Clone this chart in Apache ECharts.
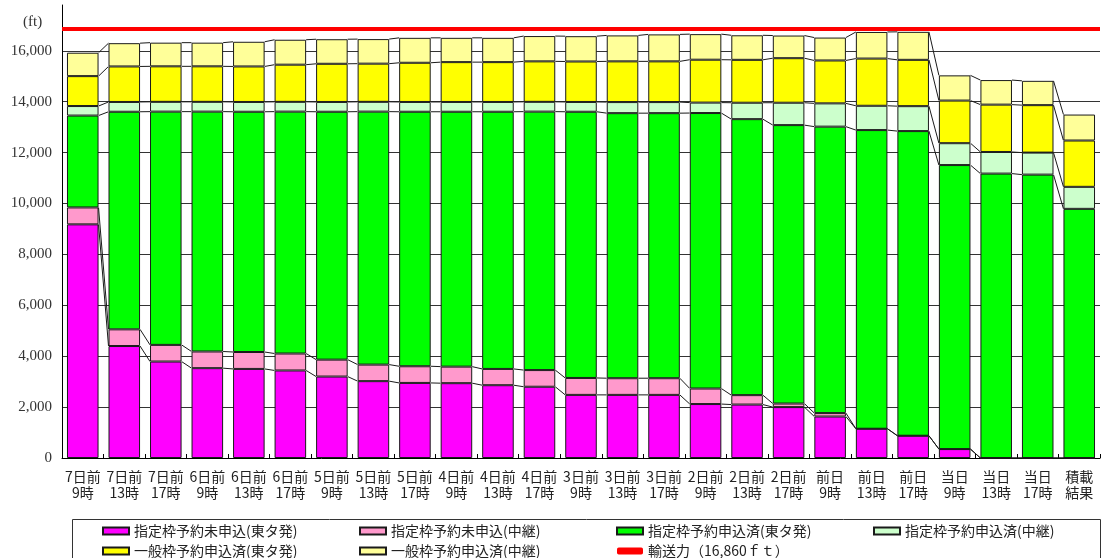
<!DOCTYPE html>
<html>
<head>
<meta charset="utf-8">
<script src="https://cdn.jsdelivr.net/npm/echarts@6/dist/echarts.min.js"></script>
<style>
html,body{margin:0;padding:0;background:#fff;}
#main{width:1103px;height:558px;}
</style>
</head>
<body>
<div id="main"></div>
<script>
// ---- data ----
const categories = [
  '7日前\n9時','7日前\n13時','7日前\n17時',
  '6日前\n9時','6日前\n13時','6日前\n17時',
  '5日前\n9時','5日前\n13時','5日前\n17時',
  '4日前\n9時','4日前\n13時','4日前\n17時',
  '3日前\n9時','3日前\n13時','3日前\n17時',
  '2日前\n9時','2日前\n13時','2日前\n17時',
  '前日\n9時','前日\n13時','前日\n17時',
  '当日\n9時','当日\n13時','当日\n17時',
  '積載\n結果'
];
const seriesNames = [
  '指定枠予約未申込(東タ発)', '指定枠予約未申込(中継)',
  '指定枠予約申込済(東タ発)', '指定枠予約申込済(中継)',
  '一般枠予約申込済(東タ発)', '一般枠予約申込済(中継)'
];
const capacityName = '輸送力（16,860ｆｔ）';
const capacity = 16860;

const unbookedTokyo = [9180,4400,3790,3530,3500,3440,3200,3020,2950,2940,2860,2800,2480,2480,2480,2120,2100,2000,1630,1150,875,350,0,0,0];
const unbookedRelay = [665,655,655,655,665,665,665,650,655,650,640,655,665,655,655,610,370,140,135,0,0,0,0,0,0];
const bookedTokyo   = [3610,8550,9165,9425,9440,9505,9740,9940,10000,10015,10105,10155,10460,10415,10415,10825,10845,10940,11255,11735,11970,11160,11175,11135,9790];
const bookedRelay   = [375,385,385,385,385,385,385,385,385,385,385,385,385,435,435,410,645,880,915,955,980,860,850,865,865];
const generalTokyo  = [1175,1395,1395,1395,1395,1460,1500,1500,1540,1565,1565,1590,1590,1600,1600,1685,1685,1750,1685,1855,1820,1675,1860,1865,1820];
const generalRelay  = [920,915,930,930,970,980,965,965,980,955,955,995,995,1020,1060,1005,965,890,900,1045,1100,990,965,955,1020];

const yTicks = { min: 0, max: 17800, interval: 2000 };

// ---- build ----
const stacks = [unbookedTokyo, unbookedRelay, bookedTokyo, bookedRelay, generalTokyo, generalRelay];
const colors = ['#FF00FF', '#FF99CC', '#00FF00', '#CCFFCC', '#FFFF00', '#FFFF99'];
const BAR_RATIO = 0.76;

const cumulative = [];
let running = categories.map(() => 0);
stacks.forEach(arr => {
  running = running.map((v, i) => v + arr[i]);
  cumulative.push(running.slice());
});

const cjk = '"Noto Sans CJK JP", "Noto Sans", sans-serif';
const serif = '"Liberation Serif", "DejaVu Serif", serif';

const barSeries = stacks.map((arr, k) => ({
  name: seriesNames[k],
  type: 'bar',
  stack: 'total',
  barWidth: (BAR_RATIO * 100) + '%',
  data: arr,
  itemStyle: { color: colors[k], borderColor: '#1a1a1a', borderWidth: 1 },
  emphasis: { disabled: true },
  z: 2
}));

const connectorSeries = {
  type: 'custom',
  name: 'connectors',
  silent: true,
  z: 3,
  data: categories.slice(0, -1).map((c, i) => [i]),
  encode: { x: 0 },
  renderItem: function (params, api) {
    const i = api.value(0);
    const band = api.size([1, 0])[0];
    const half = band * BAR_RATIO / 2;
    const xa = api.coord([i, 0])[0] + half;
    const xb = api.coord([i + 1, 0])[0] - half;
    const children = cumulative.map(cum => ({
      type: 'line',
      shape: {
        x1: xa, y1: api.coord([i, cum[i]])[1],
        x2: xb, y2: api.coord([i + 1, cum[i + 1]])[1]
      },
      style: { stroke: '#1a1a1a', lineWidth: 1 }
    }));
    return { type: 'group', children: children };
  }
};

const capacitySeries = {
  name: capacityName,
  type: 'line',
  data: [],
  symbol: 'none',
  color: '#FF0000',
  lineStyle: { color: '#FF0000', width: 4 },
  markLine: {
    silent: true,
    symbol: ['none', 'none'],
    label: { show: false },
    lineStyle: { color: '#FF0000', width: 4, type: 'solid' },
    data: [{ yAxis: capacity }]
  },
  z: 5
};

function item(name) { return { name: name, icon: 'rect' }; }

function legendCol(left, names) {
  return {
    left: left, top: 521, height: 60, width: 250, orient: 'vertical', padding: 0,
    itemWidth: 26, itemHeight: 7, itemGap: 0,
    selectedMode: false,
    textStyle: { fontFamily: cjk, fontSize: 14, color: '#222', lineHeight: 20 },
    data: names
  };
}

const chart = echarts.init(document.getElementById('main'));
chart.setOption({
  animation: false,
  backgroundColor: '#fff',
  title: {
    text: '(ft)', left: 23, top: 15, padding: 0,
    textStyle: { fontFamily: serif, fontSize: 15, fontWeight: 'normal', color: '#333' }
  },
  grid: { left: 62, right: 3, top: 5, bottom: 100 },
  legend: [
    legendCol(102, [item(seriesNames[0]), item(seriesNames[4])]),
    legendCol(359, [item(seriesNames[1]), item(seriesNames[5])]),
    legendCol(616, [item(seriesNames[2]), { name: capacityName, icon: 'roundRect', itemStyle: { color: '#FF0000', borderWidth: 0 } }]),
    legendCol(873, [item(seriesNames[3])])
  ],
  xAxis: {
    type: 'category',
    data: categories,
    boundaryGap: true,
    axisLine: { show: true, lineStyle: { color: '#000', width: 1 } },
    axisTick: { show: true, inside: true, length: 4, lineStyle: { color: '#000' } },
    axisLabel: { interval: 0, margin: 10, fontFamily: cjk, fontSize: 14, lineHeight: 16.5, color: '#222' }
  },
  yAxis: {
    type: 'value',
    min: yTicks.min, max: yTicks.max, interval: yTicks.interval,
    axisLine: { show: true, lineStyle: { color: '#000', width: 1 } },
    axisTick: { show: false },
    axisLabel: {
      showMaxLabel: false, margin: 10,
      fontFamily: serif, fontSize: 15, color: '#333',
      formatter: v => v.toLocaleString('en-US')
    },
    splitLine: { show: true, showMaxLine: false, showMinLine: false, lineStyle: { color: '#333', width: 1 } }
  },
  graphic: [{
    type: 'rect', silent: true, z: 0,
    shape: { x: 72.5, y: 519.5, width: 1028, height: 60 },
    style: { fill: 'none', stroke: '#333', lineWidth: 1 }
  }],
  series: barSeries.concat([connectorSeries, capacitySeries])
});
</script>
</body>
</html>
